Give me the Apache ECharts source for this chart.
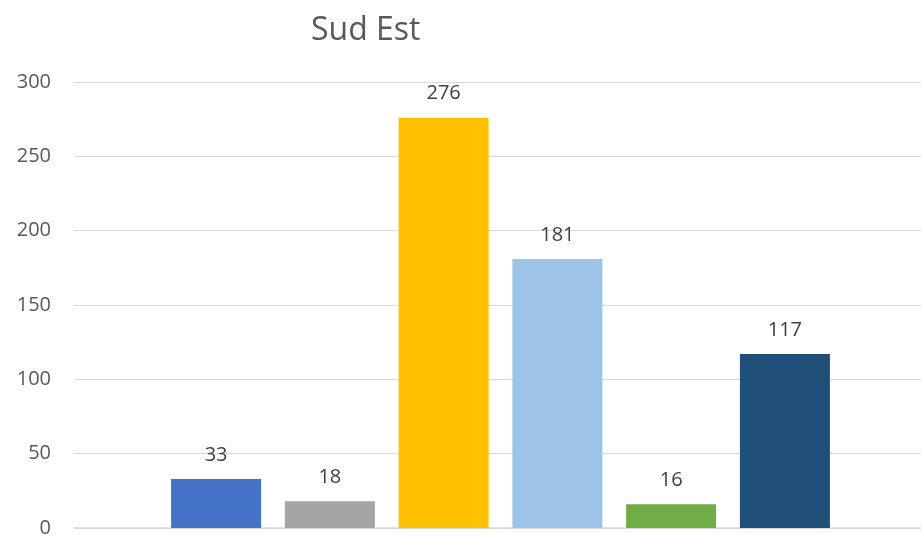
<!DOCTYPE html>
<html>
<head>
<meta charset="utf-8">
<script src="https://cdn.jsdelivr.net/npm/echarts@6/dist/echarts.min.js"></script>
<style>
  html, body { margin: 0; padding: 0; background: #fff; overflow: hidden; }
  #chart { width: 927px; height: 538px; }
</style>
</head>
<body>
<div id="chart"></div>
<script>
// valeurs
const categories = ['Sud Est']
const seriesNames = ['S1', 'S2', 'S3', 'S4', 'S5', 'S6']
const values = [33, 18, 276, 181, 16, 117]
const barColors = ['#4472C4', '#A5A5A5', '#FFC000', '#9DC3E6', '#70AD47', '#1F4E79']
const yTicks = { min: 0, max: 300, interval: 50 }

const font = '"Open Sans", "Liberation Sans", sans-serif'

const series = seriesNames.map((name, i) => ({
    name: name,
    type: 'bar',
    data: [values[i]],
    barWidth: 90,
    barGap: '26.4%',
    itemStyle: { color: barColors[i] },
    label: {
        show: true,
        position: 'top',
        distance: 14,
        color: '#404040',
        fontSize: 20,
        fontFamily: font
    }
}))

const option = {
    animation: false,
    title: {
        text: 'Sud Est',
        left: 306,
        top: 10,
        textStyle: {
            color: '#595959',
            fontSize: 32,
            fontWeight: 'normal',
            fontFamily: font
        }
    },
    grid: {
        left: 74,
        right: 0,
        top: 82,
        bottom: 8.5,
        containLabel: false
    },
    xAxis: {
        type: 'category',
        data: categories,
        axisLine: { show: true, lineStyle: { color: '#D9D9D9', width: 1.5 } },
        axisTick: { show: false },
        axisLabel: { show: false }
    },
    yAxis: {
        type: 'value',
        min: yTicks.min,
        max: yTicks.max,
        interval: yTicks.interval,
        axisLine: { show: false },
        axisTick: { show: false },
        axisLabel: {
            color: '#595959',
            fontSize: 20,
            fontFamily: font,
            margin: 23
        },
        splitLine: { lineStyle: { color: '#D9D9D9', width: 1 } }
    },
    series: series
}

const chart = echarts.init(document.getElementById('chart'))
chart.setOption(option)
</script>
</body>
</html>
